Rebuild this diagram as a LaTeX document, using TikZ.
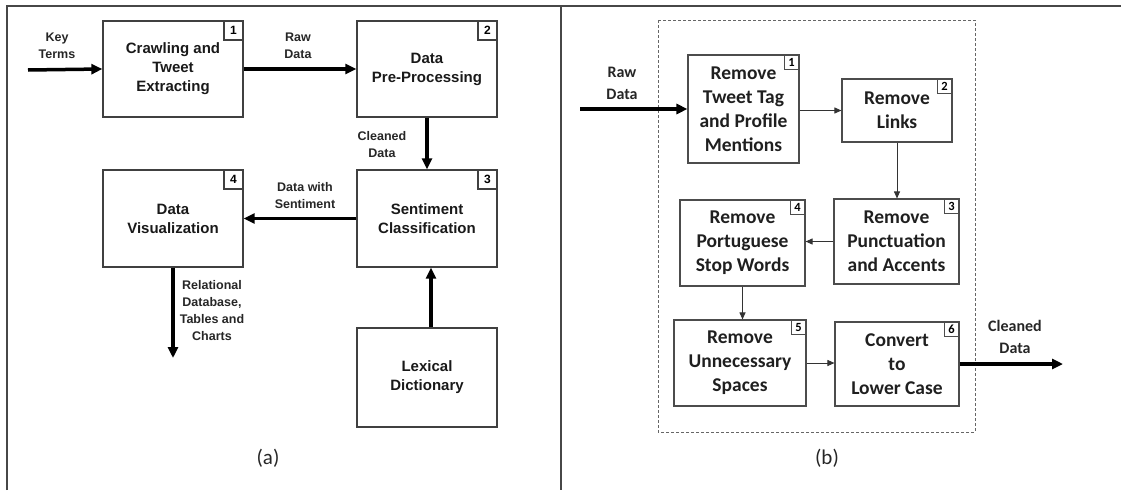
\documentclass[tikz,border=0pt]{standalone}
\usepackage{fontspec}
\setmainfont{Carlito}
\newfontfamily\arialfont{Liberation Sans}
\usetikzlibrary{arrows.meta}
\begin{document}
\begin{tikzpicture}[x=1pt,y=-1pt,
  framecol/.style={draw=black!72,line width=2pt},
  abox/.style={draw=black!75,line width=1.3pt,minimum width=140pt,minimum height=96pt,
    align=center,inner sep=0pt,font=\arialfont\bfseries\fontsize{15}{19}\selectfont,text=black!90},
  anum/.style={draw=black!75,line width=1.2pt,minimum size=19pt,inner sep=0pt,
    font=\arialfont\bfseries\fontsize{12}{12}\selectfont},
  alabel/.style={align=center,inner sep=0pt,font=\arialfont\bfseries\fontsize{12.5}{17}\selectfont,text=black!85},
  thick arrow/.style={line width=3.5pt,-{Triangle[length=11pt,width=10pt]}},
  bbox/.style={draw=black!70,line width=1.1pt,align=center,inner sep=0pt,
    font=\bfseries\fontsize{19.5}{24}\selectfont,text=black!88},
  bnum/.style={draw=black!70,line width=1pt,minimum size=15pt,inner sep=0pt,
    font=\bfseries\fontsize{12.5}{12}\selectfont},
  blabel/.style={align=center,inner sep=0pt,font=\bfseries\fontsize{16}{22}\selectfont,text=black!85},
  thin arrow/.style={line width=0.9pt,draw=black!80,-{Triangle[length=7pt,width=6pt]}},
  caption/.style={inner sep=0pt,font=\fontsize{21}{24}\selectfont,text=black!85}]
\useasboundingbox (0,0) rectangle (1121,490);

% outer frame and divider
\draw[framecol] (7,490) -- (7,6) -- (1121,6);
\draw[framecol] (561,6) -- (561,490);

% ---------- panel (a): overall pipeline ----------
\node[abox] (crawl) at (173,69) {Crawling and\\Tweet\\Extracting};
\node[abox] (prep)  at (427,69) {Data\\Pre-Processing};
\node[abox,minimum height=97pt] (sent) at (427,218.5) {Sentiment\\Classification};
\node[abox,minimum height=97pt] (vis)  at (173,218.5) {Data\\Visualization};
\node[abox,minimum height=99pt] (lex)  at (427,377.5) {Lexical\\Dictionary};

\node[anum,anchor=north east] at (crawl.north east) {1};
\node[anum,anchor=north east] at (prep.north east) {2};
\node[anum,anchor=north east] at (sent.north east) {3};
\node[anum,anchor=north east] at (vis.north east) {4};

\coordinate (keyin) at (28,70);
\coordinate (dbout) at (173,358);
\draw[thick arrow] (keyin) -- (crawl.west);
\draw[thick arrow] (crawl.east) -- (prep.west);
\draw[thick arrow] (prep.south) -- (sent.north);
\draw[thick arrow] (sent.west) -- (vis.east);
\draw[thick arrow] (vis.south) -- (dbout);
\draw[thick arrow] ([xshift=4pt]lex.north) -- ([xshift=4pt]sent.south);

\node[alabel] (lkey) at (57,46) {Key\\Terms};
\node[alabel] (lraw) at (298,46) {Raw\\Data};
\node[alabel] (lclean) at (382,145) {Cleaned\\Data};
\node[alabel] (lsent) at (305,196) {Data with\\Sentiment};
\node[alabel] (ldb) at (212,311) {Relational\\Database,\\Tables and\\Charts};

\node[caption] (capa) at (268,458) {(a)};

% ---------- panel (b): pre-processing steps ----------
\draw[draw=black!60,line width=0.8pt,dash pattern=on 3pt off 2pt] (658,20) rectangle (975,432);

\node[bbox,minimum width=111pt,minimum height=108pt] (b1) at (743.5,109) {Remove\\Tweet Tag\\and Profile\\Mentions};
\node[bbox,minimum width=110pt,minimum height=63pt]  (b2) at (897,110.5) {Remove\\Links};
\node[bbox,minimum width=125pt,minimum height=85pt]  (b3) at (896.5,241.5) {Remove\\Punctuation\\and Accents};
\node[bbox,minimum width=125pt,minimum height=86pt]  (b4) at (742.5,243) {Remove\\Portuguese\\Stop Words};
\node[bbox,minimum width=132pt,minimum height=86pt]  (b5) at (740,363) {Remove\\Unnecessary\\Spaces};
\node[bbox,minimum width=124pt,minimum height=84pt]  (b6) at (897,364) {Convert\\to\\Lower Case};

\node[bnum,anchor=north east] at (b1.north east) {1};
\node[bnum,anchor=north east] at (b2.north east) {2};
\node[bnum,anchor=north east] at (b3.north east) {3};
\node[bnum,anchor=north east] at (b4.north east) {4};
\node[bnum,anchor=north east] at (b5.north east) {5};
\node[bnum,anchor=north east] at (b6.north east) {6};

\coordinate (rawin) at (580,109);
\coordinate (cleanout) at (1063,364);
\draw[thick arrow] (rawin) -- (b1.west);
\draw[thin arrow] (b1.east |- b2.west) -- (b2.west);
\draw[thin arrow] (b2.south) -- (b2.south |- b3.north);
\draw[thin arrow] (b3.west) -- (b4.east |- b3.west);
\draw[thin arrow] (b4.south) -- (b4.south |- b5.north);
\draw[thin arrow] (b5.east) -- (b6.west |- b5.east);
\draw[thick arrow] (b6.east) -- (cleanout);

\node[blabel] (braw) at (622,83) {Raw\\Data};
\node[blabel] (bclean) at (1015,337) {Cleaned\\Data};

\node[caption] (capb) at (827,458) {(b)};
\end{tikzpicture}
\end{document}
